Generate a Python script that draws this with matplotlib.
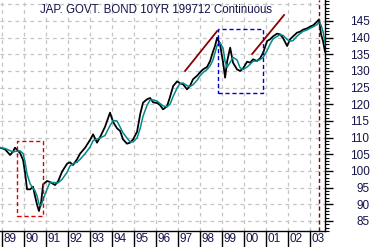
import matplotlib
matplotlib.use("Agg")
import matplotlib.pyplot as plt
import matplotlib.transforms as mtransforms
from matplotlib.ticker import MultipleLocator
import pandas as pd

plt.rcParams['font.family'] = ['Liberation Sans', 'DejaVu Sans']

# price (decimal year, level)
dates = [1988.93, 1989.16, 1989.39, 1989.52, 1989.61, 1989.84, 1989.98, 1990.07, 1990.16, 1990.30,
         1990.43, 1990.52, 1990.61, 1990.70, 1990.80, 1990.89, 1991.07, 1991.20, 1991.43, 1991.57,
         1991.75, 1991.98, 1992.11, 1992.25, 1992.43, 1992.57, 1992.80, 1993.02, 1993.16, 1993.34,
         1993.48, 1993.70, 1993.93, 1994.07, 1994.25, 1994.39, 1994.52, 1994.70, 1994.84, 1994.98,
         1995.16, 1995.30, 1995.43, 1995.61, 1995.75, 1995.89, 1996.07, 1996.20, 1996.34, 1996.52,
         1996.66, 1996.80, 1996.98, 1997.11, 1997.25, 1997.43, 1997.57, 1997.70, 1997.89, 1998.02,
         1998.16, 1998.34, 1998.48, 1998.61, 1998.70, 1998.80, 1998.93, 1999.07, 1999.16, 1999.25,
         1999.39, 1999.52, 1999.70, 1999.84, 1999.98, 2000.16, 2000.30, 2000.43, 2000.61, 2000.75,
         2000.89, 2001.07, 2001.20, 2001.34, 2001.52, 2001.66, 2001.80, 2001.98, 2002.11, 2002.25,
         2002.43, 2002.57, 2002.70, 2002.89, 2003.02, 2003.16, 2003.34, 2003.43, 2003.52, 2003.61,
         2003.70]
price = [107.0, 106.5, 104.8, 105.8, 107.0, 105.4, 103.3, 99.4, 94.5, 94.5,
         95.3, 92.5, 90.0, 88.0, 90.7, 96.0, 97.0, 96.7, 95.8, 96.9,
         99.8, 102.2, 102.6, 101.8, 103.5, 105.2, 107.0, 109.3, 111.0, 108.5,
         110.2, 113.2, 117.5, 114.7, 112.8, 112.0, 109.5, 108.2, 108.5, 109.5,
         111.8, 117.0, 120.5, 121.5, 121.9, 120.6, 120.4, 119.8, 118.5, 119.4,
         122.3, 125.5, 126.9, 126.3, 126.0, 124.5, 125.6, 127.5, 128.6, 129.6,
         130.5, 131.2, 133.0, 135.8, 137.5, 140.0, 138.0, 132.5, 128.0, 132.8,
         137.0, 132.5, 130.5, 130.0, 130.8, 132.8, 132.5, 133.5, 133.0, 133.8,
         135.5, 139.0, 139.5, 140.4, 141.2, 141.0, 139.8, 137.5, 139.5, 140.4,
         141.5, 141.8, 142.4, 142.8, 143.3, 143.7, 144.8, 145.5, 141.0, 139.0,
         135.8]

years = list(range(1989, 2004))
year_labels = ['89', '90', '91', '92', '93', '94', '95', '96', '97', '98', '99', '00', '01', '02', '03']
ytick_vals = [85, 90, 95, 100, 105, 110, 115, 120, 125, 130, 135, 140, 145]

# annotations
red_box = (1989.70, 1990.89, 86.5, 109.0)
blue_box = (1998.84, 2000.89, 123.4, 142.6)
trend_1 = ([1997.34, 1998.80], [130.0, 142.0])
trend_2 = ([2000.39, 2001.84], [135.1, 146.8])
event_x = 2003.43

avg = pd.Series(price).rolling(3, min_periods=1).mean()

fig = plt.figure(figsize=(3.71, 2.47), dpi=100)
ax = fig.add_axes([0.0, 0.0648, 0.876, 0.9352])
ax.set_xlim(1988.93, 2003.70)
ax.set_ylim(82.0, 151.3)

grid_kw = dict(color='#c4c4c4', lw=0.9, dashes=(3, 3), zorder=0)
for yr in years:
    ax.axvline(yr, **grid_kw)
for v in range(85, 151, 5):
    ax.axhline(v, **grid_kw)

ax.plot(dates, price, color='black', lw=1.3, zorder=2)
ax.plot(dates, avg, color='#008b8b', lw=1.1, zorder=3)

def box(b, color):
    x0, x1, y0, y1 = b
    ax.plot([x0, x1, x1, x0, x0], [y0, y0, y1, y1, y0], color=color, lw=1.0,
            dashes=(3, 2), zorder=4)

box(red_box, '#e00000')
box(blue_box, '#0000d0')
ax.plot(*trend_1, color='#8b0000', lw=1.3, zorder=4)
ax.plot(*trend_2, color='#8b0000', lw=1.3, zorder=4)
ax.axvline(event_x, color='#8b0000', lw=1.0, dashes=(3, 2), zorder=4)

ax.text(1990.75, 148.4, 'JAP. GOVT. BOND 10YR 199712 Continuous', fontsize=8.3,
        color='#14144a', ha='left', va='center', zorder=5)

for s in ['left', 'top']:
    ax.spines[s].set_visible(False)
ax.spines['right'].set_linewidth(1.0)
ax.spines['bottom'].set_linewidth(1.0)

ax.set_xticks([])
ax.yaxis.tick_right()
ax.set_yticks(ytick_vals)
ax.yaxis.set_minor_locator(MultipleLocator(1))
ax.tick_params(axis='y', which='major', length=6, width=1.0, pad=26, labelsize=8.5,
               labelcolor='#14144a')
ax.tick_params(axis='y', which='minor', length=3, width=0.8)
for lab in ax.get_yticklabels():
    lab.set_horizontalalignment('right')

# year separators and labels below the axis
trans = mtransforms.blended_transform_factory(ax.transData, ax.transAxes)
for yr, lab in zip(years, year_labels):
    ax.plot([yr, yr], [0, -0.075], color='black', lw=1.0, transform=trans, clip_on=False)
    ax.text(yr + 0.07, -0.036, lab, transform=trans, fontsize=8.5, color='#14144a',
            ha='left', va='center')

fig.savefig('out.png', dpi=100)
